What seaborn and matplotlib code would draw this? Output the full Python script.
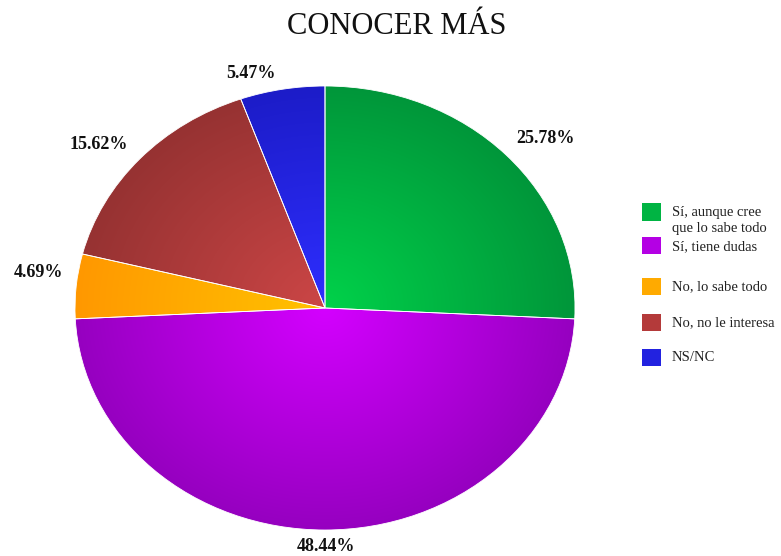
import matplotlib
matplotlib.use("Agg")
import matplotlib.pyplot as plt
import seaborn as sns
import numpy as np
from matplotlib.colors import to_rgb
from matplotlib.patches import Rectangle

categories = ["Sí, aunque cree\nque lo sabe todo", "Sí, tiene dudas", "No, lo sabe todo",
              "No, no le interesa", "NS/NC"]
values = [25.78, 48.44, 4.69, 15.62, 5.47]
colors = ["#00b443", "#b400e4", "#ffaa00", "#b43a3a", "#2222e0"]
inner_colors = ["#00d24a", "#d400ff", "#ffc200", "#cc4646", "#2e2eff"]
outer_colors = ["#00963a", "#9600c0", "#ff9800", "#963232", "#1c1cc8"]
title = "CONOCER MÁS"

sns.set_theme(style="white")
plt.rcParams["font.family"] = ["Liberation Serif", "DejaVu Serif"]

fig = plt.figure(figsize=(7.81, 5.56), dpi=100)
ax = fig.add_axes([75 / 781, 26 / 556, 500 / 781, 444 / 556])

d0 = 1.14
wedges, texts, autotexts = ax.pie(
    values, colors=colors, startangle=90, counterclock=False,
    autopct=lambda p: f"{p:.2f}%", pctdistance=d0,
    wedgeprops=dict(edgecolor="white", linewidth=0.6),
    textprops=dict(fontsize=13, fontweight="bold", color="#111111"),
)
ax.set_aspect("auto")
ax.set_xlim(-1, 1)
ax.set_ylim(-1, 1)

# radial gradient shading clipped to each wedge
n = 400
yy, xx = np.mgrid[-1:1:n * 1j, -1:1:n * 1j]
rr = np.clip(np.sqrt(xx ** 2 + yy ** 2), 0, 1)[..., None]
for w, ci, co in zip(wedges, inner_colors, outer_colors):
    img = np.array(to_rgb(ci)) * (1 - rr) + np.array(to_rgb(co)) * rr
    im = ax.imshow(img, extent=(-1, 1, -1, 1), origin="lower", aspect="auto",
                   zorder=w.get_zorder() + 0.1, interpolation="bilinear")
    im.set_clip_path(w)
for w in wedges:
    w.set_facecolor("none")
    w.set_zorder(5)
ax.set_xlim(-1, 1)
ax.set_ylim(-1, 1)

# label placement: radial distance plus small pixel nudges (dx right, dy down)
label_dist = [1.17, 1.08, 1.15, 1.17, 1.10]
nudges = [(9, 10), (1, -1), (0, -10), (-10, 11), (-27, 6)]
for t, d, (dx, dy) in zip(autotexts, label_dist, nudges):
    x, y = t.get_position()
    t.set_position((x * d / d0 + dx / 250, y * d / d0 - dy / 222))
    t.set_clip_on(False)
    t.set_zorder(10)

fig.text(397 / 781, 1 - 27 / 556, title, ha="center", va="center", fontsize=22, color="#111111")

# legend entries
legend_y = [212, 246, 286, 322, 357]
for c, lab, yc in zip(colors, categories, legend_y):
    fig.patches.append(Rectangle((642 / 781, 1 - (yc + 8.5) / 556), 19 / 781, 17 / 556,
                                 transform=fig.transFigure, facecolor=c, edgecolor="none"))
    fig.text(672 / 781, 1 - (yc - 6) / 556, lab, ha="left", va="top", fontsize=10.5,
             color="#222222", linespacing=1.3)

fig.savefig("out.png", dpi=100)
